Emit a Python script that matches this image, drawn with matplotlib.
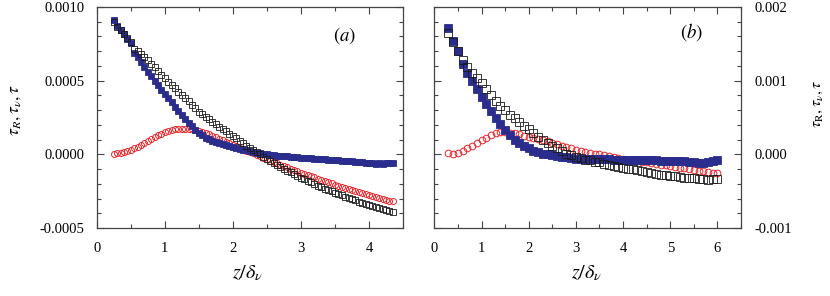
import matplotlib
matplotlib.use('Agg')
import matplotlib.pyplot as plt
import numpy as np
from matplotlib.ticker import MultipleLocator, FormatStrFormatter

plt.rcParams['font.family'] = 'serif'
plt.rcParams['font.serif'] = ['Liberation Serif', 'DejaVu Serif']
plt.rcParams['mathtext.fontset'] = 'stix'
plt.rcParams['axes.unicode_minus'] = False

# (a) wall-normal distance z/delta_v, stresses in units of 1e-6
z_a = [0.25, 0.30, 0.35, 0.40, 0.45, 0.50, 0.55, 0.60, 0.65, 0.70,
       0.75, 0.80, 0.85, 0.90, 0.95, 1.00, 1.05, 1.10, 1.15, 1.20,
       1.25, 1.30, 1.35, 1.40, 1.45, 1.50, 1.55, 1.60, 1.65, 1.70,
       1.75, 1.80, 1.85, 1.90, 1.95, 2.00, 2.05, 2.10, 2.15, 2.20,
       2.25, 2.30, 2.35, 2.40, 2.45, 2.50, 2.55, 2.60, 2.65, 2.70,
       2.75, 2.80, 2.85, 2.90, 2.95, 3.00, 3.05, 3.10, 3.15, 3.20,
       3.25, 3.30, 3.35, 3.40, 3.45, 3.50, 3.55, 3.60, 3.65, 3.70,
       3.75, 3.80, 3.85, 3.90, 3.95, 4.00, 4.05, 4.10, 4.15, 4.20,
       4.25, 4.30, 4.35]
tau_a = [895, 865, 845, 820, 790, 760, 715, 700, 680, 660,
         640, 615, 590, 565, 540, 515, 492, 470, 448, 426,
         404, 382, 360, 338, 314, 290, 272, 255, 238, 221,
         204, 188, 172, 156, 140, 124, 108, 92, 76, 60,
         44, 29, 14, -1, -16, -30, -44, -58, -71, -84,
         -97, -110, -122, -134, -146, -158, -169, -180, -191, -202,
         -212, -222, -232, -242, -252, -261, -270, -279, -288, -297,
         -305, -313, -321, -329, -337, -344, -351, -358, -365, -372,
         -378, -384, -390]
tauv_a = [915, 870, 845, 815, 785, 755, 685, 660, 630, 595,
          560, 530, 500, 470, 440, 410, 382, 352, 322, 292,
          264, 240, 214, 190, 166, 145, 128, 114, 102, 92,
          83, 75, 68, 61, 54, 48, 42, 37, 32, 27,
          22, 17, 12, 8, 4, 1, -2, -5, -8, -10,
          -12, -14, -16, -18, -20, -22, -24, -26, -27, -29,
          -31, -32, -34, -36, -37, -39, -40, -42, -44, -46,
          -47, -49, -54, -52, -58, -60, -56, -63, -57, -64,
          -60, -62, -60]
tauR_a = [5, 6, 9, 14, 21, 30, 41, 53, 66, 79,
          92, 104, 116, 128, 139, 149, 157, 164, 169, 173,
          175, 175, 173, 170, 165, 159, 152, 144, 135, 126,
          116, 106, 96, 86, 76, 66, 56, 46, 36, 26,
          16, 6, -4, -14, -24, -34, -43, -53, -62, -71,
          -80, -89, -98, -107, -116, -125, -133, -141, -149, -157,
          -165, -173, -181, -189, -197, -205, -213, -221, -228, -235,
          -242, -249, -256, -263, -270, -277, -283, -290, -296, -302,
          -308, -314, -320]

# (b)
z_b = [0.3, 0.4, 0.5, 0.6, 0.7, 0.8, 0.9, 1.0, 1.1, 1.2,
       1.3, 1.4, 1.5, 1.6, 1.7, 1.8, 1.9, 2.0, 2.1, 2.2,
       2.3, 2.4, 2.5, 2.6, 2.7, 2.8, 2.9, 3.0, 3.1, 3.2,
       3.3, 3.4, 3.5, 3.6, 3.7, 3.8, 3.9, 4.0, 4.1, 4.2,
       4.3, 4.4, 4.5, 4.6, 4.7, 4.8, 4.9, 5.0, 5.1, 5.2,
       5.3, 5.4, 5.5, 5.6, 5.7, 5.8, 5.9, 6.0]
tau_b = [1650, 1520, 1400, 1280, 1190, 1110, 1040, 970, 890, 810,
         730, 660, 600, 540, 490, 440, 390, 340, 290, 240,
         200, 160, 120, 80, 40, 10, -10, -30, -50, -70,
         -80, -100, -110, -130, -140, -155, -170, -180, -195, -205,
         -215, -230, -240, -255, -265, -275, -285, -295, -300, -305,
         -315, -320, -325, -330, -340, -345, -340, -338]
tauv_b = [1720, 1540, 1400, 1230, 1110, 1000, 890, 780, 690, 590,
          500, 410, 330, 260, 200, 150, 110, 80, 50, 30,
          10, 0, -10, -20, -30, -40, -50, -60, -62, -64,
          -65, -66, -67, -68, -69, -70, -71, -72, -73, -74,
          -76, -77, -78, -80, -82, -84, -86, -88, -90, -92,
          -96, -100, -105, -112, -120, -105, -90, -82]
tauR_b = [20, 5, 15, 45, 80, 115, 150, 190, 225, 260,
          285, 300, 300, 295, 285, 270, 255, 240, 225, 210,
          193, 176, 158, 140, 120, 100, 82, 65, 50, 36,
          23, 10, -2, -14, -26, -38, -50, -60, -70, -80,
          -90, -100, -110, -120, -130, -140, -150, -160, -170, -180,
          -190, -200, -210, -220, -230, -240, -250, -260]

blue = '#2b2d8e'
red = '#e8262b'

fig = plt.figure(figsize=(8.3, 2.96), dpi=100)
ax1 = fig.add_axes([0.1165, 0.2297, 0.369, 0.7466])
ax2 = fig.add_axes([0.5233, 0.2297, 0.3695, 0.7466])


def draw(ax, z, tr, tv, t, ms):
    ax.plot(z, np.array(tr) * 1e-6, 'o', ms=ms, mfc='none', mec=red, mew=0.7)
    ax.plot(z, np.array(tv) * 1e-6, 's', ms=ms + 0.3, mfc=blue, mec=blue, mew=0.6)
    ax.plot(z, np.array(t) * 1e-6, 's', ms=ms + 0.3, mfc='none', mec='#1a1a1a', mew=0.6)
    ax.xaxis.set_major_locator(MultipleLocator(1))
    ax.xaxis.set_minor_locator(MultipleLocator(0.5))
    ax.tick_params(which='both', direction='in', top=True, bottom=True,
                   left=True, right=True, labelsize=10.5, color='#444444')
    ax.tick_params(which='major', length=5, width=0.8)
    ax.tick_params(which='minor', length=3, width=0.8)
    ax.tick_params(axis='x', pad=10)
    for s in ax.spines.values():
        s.set_color('#444444')
        s.set_linewidth(0.9)


draw(ax1, z_a, tauR_a, tauv_a, tau_a, 4.3)
ax1.set_xlim(0, 4.5)
ax1.set_ylim(-0.0005, 0.0010)
ax1.yaxis.set_major_locator(MultipleLocator(0.0005))
ax1.yaxis.set_minor_locator(MultipleLocator(0.0001))
ax1.yaxis.set_major_formatter(FormatStrFormatter('%.4f'))
ax1.tick_params(axis='y', pad=9)
ax1.text(0.81, 0.869, r'$(\mathit{a})$', transform=ax1.transAxes,
         fontsize=13.5, ha='center', va='center')

draw(ax2, z_b, tauR_b, tauv_b, tau_b, 4.8)
ax2.set_xlim(0, 6.5)
ax2.set_ylim(-0.001, 0.002)
ax2.yaxis.set_major_locator(MultipleLocator(0.001))
ax2.yaxis.set_minor_locator(MultipleLocator(0.0002))
ax2.yaxis.set_major_formatter(FormatStrFormatter('%.3f'))
ax2.tick_params(axis='y', labelleft=False, labelright=True, pad=10)
ax2.text(0.837, 0.887, r'$(\mathit{b})$', transform=ax2.transAxes,
         fontsize=13.5, ha='center', va='center')

fig.text(15 / 830, 1 - 110 / 296, r'$\tau_R, \tau_\nu, \tau$', rotation=90,
         fontsize=12.5, ha='center', va='center')
fig.text(817 / 830, 1 - 104 / 296, r'$\tau_{\rm R}, \tau_\nu, \tau$', rotation=90,
         fontsize=11.5, ha='center', va='center')
fig.text(248 / 830, 1 - 273 / 296, r'$z/\delta_\nu$', fontsize=14.5,
         ha='center', va='center')
fig.text(587 / 830, 1 - 273 / 296, r'$z/\delta_\nu$', fontsize=14.5,
         ha='center', va='center')

fig.savefig('out.png', dpi=100)
